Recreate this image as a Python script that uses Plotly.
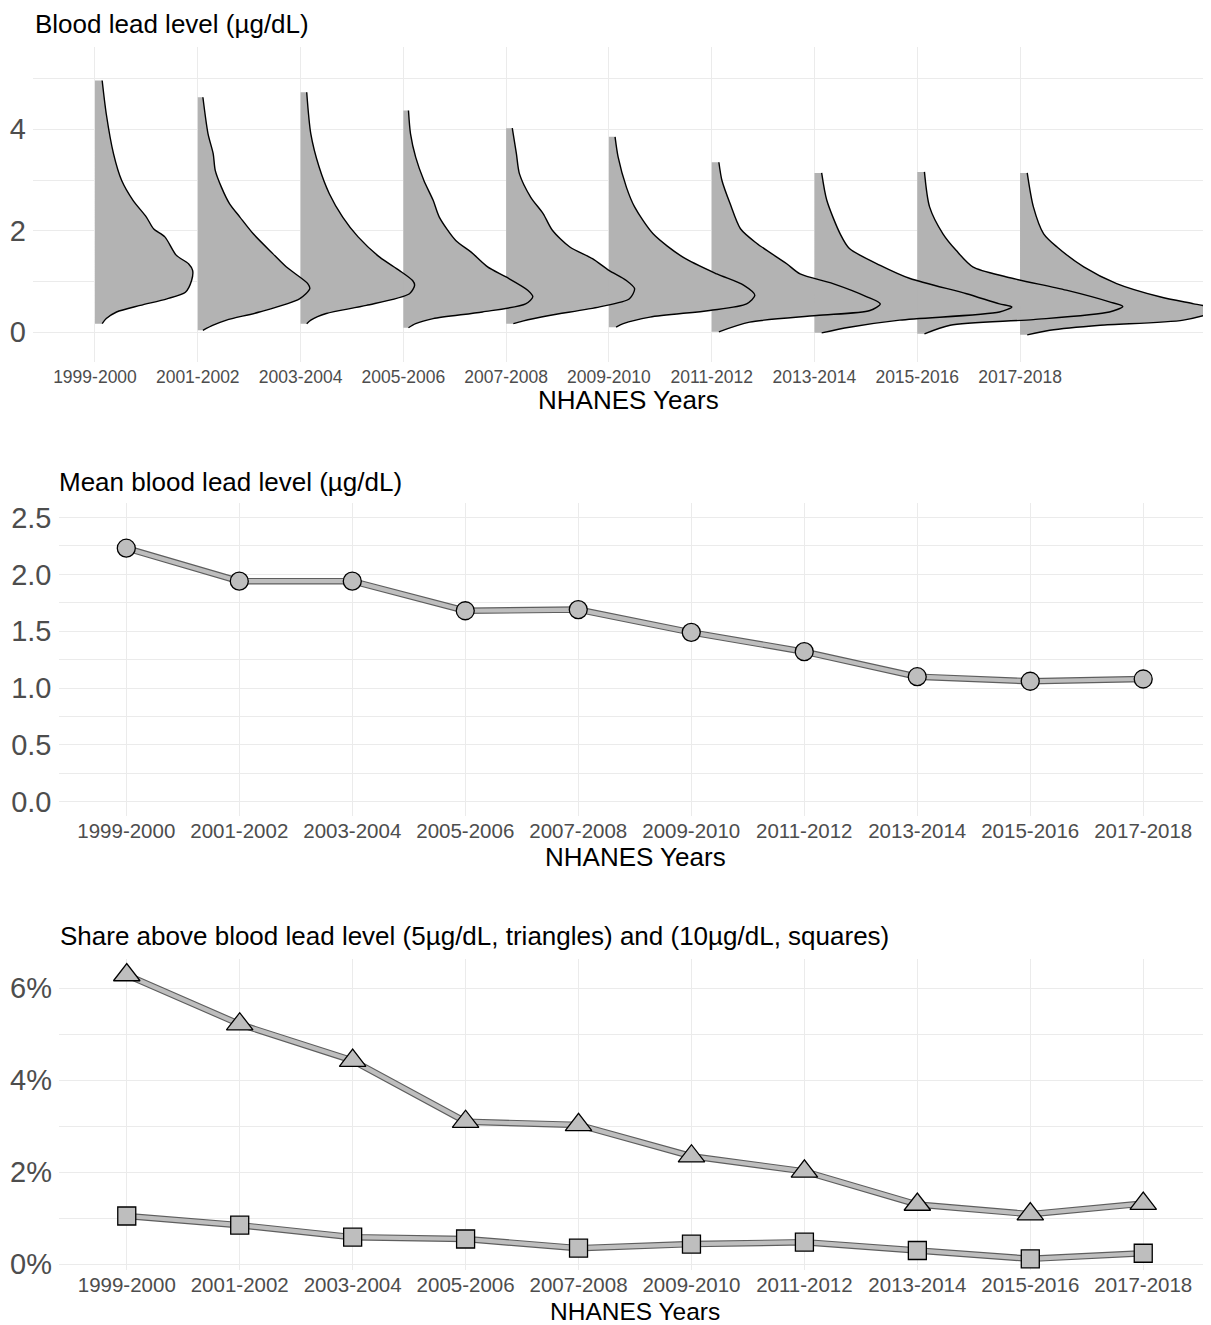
import plotly.graph_objects as go

periods = ["1999-2000", "2001-2002", "2003-2004", "2005-2006", "2007-2008",
           "2009-2010", "2011-2012", "2013-2014", "2015-2016", "2017-2018"]

# Ridge (half-density) profiles: blood lead level and density height
ridge_levels = [
    [4.96, 4.30, 3.52, 2.99, 2.60, 2.27, 2.04, 1.88, 1.52, 1.35, 1.22, 1.02, 0.79, 0.66, 0.53, 0.40, 0.27, 0.17],
    [4.63, 3.91, 3.52, 3.19, 2.86, 2.53, 2.27, 1.94, 1.55, 1.29, 0.96, 0.86, 0.66, 0.40, 0.24, 0.14, 0.04],
    [4.73, 3.91, 3.26, 2.73, 2.27, 1.88, 1.48, 1.22, 1.02, 0.93, 0.76, 0.53, 0.37, 0.24, 0.17],
    [4.37, 3.91, 3.45, 2.99, 2.60, 2.27, 1.81, 1.58, 1.29, 1.09, 0.83, 0.70, 0.56, 0.40, 0.27, 0.17, 0.09],
    [4.02, 3.52, 3.12, 2.66, 2.34, 2.01, 1.68, 1.45, 1.22, 1.02, 0.86, 0.66, 0.50, 0.33, 0.22, 0.17],
    [3.85, 3.45, 2.86, 2.47, 1.94, 1.48, 1.15, 0.93, 0.73, 0.56, 0.43, 0.30, 0.17, 0.10],
    [3.35, 2.99, 2.53, 2.04, 1.75, 1.35, 1.15, 0.96, 0.70, 0.56, 0.43, 0.33, 0.20, 0.01],
    [3.14, 2.60, 1.94, 1.65, 1.32, 1.06, 0.76, 0.56, 0.50, 0.40, 0.24, 0.10, -0.01],
    [3.16, 2.47, 1.94, 1.61, 1.29, 1.09, 0.83, 0.60, 0.51, 0.40, 0.25, 0.14, -0.03],
    [3.14, 2.47, 1.94, 1.68, 1.29, 0.96, 0.70, 0.56, 0.45, 0.24, 0.14, 0.04, -0.05],
]
ridge_density = [
    [0.07, 0.11, 0.18, 0.26, 0.37, 0.50, 0.57, 0.68, 0.79, 0.91, 0.95, 0.94, 0.88, 0.70, 0.44, 0.21, 0.11, 0.07],
    [0.05, 0.10, 0.15, 0.17, 0.23, 0.31, 0.41, 0.54, 0.73, 0.86, 1.07, 1.09, 0.99, 0.60, 0.28, 0.15, 0.05],
    [0.06, 0.10, 0.18, 0.28, 0.41, 0.56, 0.77, 0.96, 1.09, 1.11, 1.06, 0.64, 0.25, 0.10, 0.06],
    [0.05, 0.07, 0.12, 0.20, 0.29, 0.35, 0.51, 0.66, 0.82, 1.00, 1.21, 1.26, 1.19, 0.77, 0.29, 0.12, 0.05],
    [0.06, 0.10, 0.13, 0.24, 0.36, 0.45, 0.62, 0.84, 1.00, 1.17, 1.25, 1.20, 0.91, 0.42, 0.16, 0.07],
    [0.06, 0.09, 0.17, 0.25, 0.43, 0.72, 1.05, 1.31, 1.42, 1.34, 0.98, 0.40, 0.14, 0.07],
    [0.07, 0.10, 0.18, 0.28, 0.44, 0.73, 0.86, 1.18, 1.51, 1.64, 1.54, 1.02, 0.37, 0.07],
    [0.07, 0.12, 0.25, 0.34, 0.64, 0.93, 1.48, 1.80, 1.92, 1.80, 0.83, 0.34, 0.07],
    [0.07, 0.12, 0.25, 0.38, 0.54, 0.87, 1.45, 1.87, 2.00, 1.87, 1.13, 0.32, 0.07],
    [0.07, 0.13, 0.23, 0.36, 0.62, 0.94, 1.36, 1.69, 1.95, 1.59, 0.78, 0.29, 0.07],
]

mean_bll = [2.23, 1.94, 1.94, 1.68, 1.69, 1.49, 1.32, 1.10, 1.06, 1.08]
share_above_5 = [6.29, 5.22, 4.43, 3.10, 3.03, 2.35, 2.02, 1.30, 1.09, 1.32]
share_above_10 = [1.05, 0.85, 0.59, 0.55, 0.35, 0.44, 0.48, 0.30, 0.12, 0.24]

ridge_ticks = [0, 2, 4]
mean_ticks = [0.0, 0.5, 1.0, 1.5, 2.0, 2.5]
share_ticks = [0, 2, 4, 6]

FONT = "Liberation Sans, Arial, Helvetica, sans-serif"
GRID = "#EBEBEB"
TICK = "#4D4D4D"
RIDGE_FILL = "#B3B3B3"
PT_FILL = "#BEBEBE"
OFF = 8                      # page body margin of the html page
W, H = 1211 - OFF, 1325 - OFF
SM = 0.75

def px_x(X):
    return (X - OFF) / W

def px_y(Y):
    return 1 - (Y - OFF) / H

idx = list(range(len(periods)))

fig = go.Figure()

# ---- Panel 1: ridges (fills first, then outlines) ----
for i, (lev, den) in enumerate(zip(ridge_levels, ridge_density)):
    fig.add_trace(go.Scatter(x=[i, i], y=[lev[0], lev[-1]], mode="lines",
                             line=dict(width=0, color=RIDGE_FILL), hoverinfo="skip",
                             showlegend=False, xaxis="x", yaxis="y"))
    fig.add_trace(go.Scatter(x=[i + d for d in den], y=lev, mode="lines",
                             line=dict(width=0, color=RIDGE_FILL, shape="spline", smoothing=SM),
                             fill="tonextx", fillcolor=RIDGE_FILL, hoverinfo="skip",
                             showlegend=False, xaxis="x", yaxis="y"))
for i, (lev, den) in enumerate(zip(ridge_levels, ridge_density)):
    fig.add_trace(go.Scatter(x=[i + d for d in den], y=lev, mode="lines",
                             line=dict(width=1.4, color="black", shape="spline", smoothing=SM),
                             showlegend=False, xaxis="x", yaxis="y"))

# ---- Panel 2: mean ----
def band(x, y, xa, ya):
    fig.add_trace(go.Scatter(x=x, y=y, mode="lines", line=dict(width=6.5, color="#5E5E5E"),
                             showlegend=False, xaxis=xa, yaxis=ya))
    fig.add_trace(go.Scatter(x=x, y=y, mode="lines", line=dict(width=4.2, color=PT_FILL),
                             showlegend=False, xaxis=xa, yaxis=ya))

band(idx, mean_bll, "x2", "y2")
fig.add_trace(go.Scatter(x=idx, y=mean_bll, mode="markers",
                         marker=dict(symbol="circle", size=18, color=PT_FILL,
                                     line=dict(color="black", width=1.3)),
                         showlegend=False, xaxis="x2", yaxis="y2"))

# ---- Panel 3: shares ----
band(idx, share_above_5, "x3", "y3")
band(idx, share_above_10, "x3", "y3")
fig.add_trace(go.Scatter(x=idx, y=share_above_5, mode="markers",
                         marker=dict(symbol="triangle-up", size=23, color=PT_FILL,
                                     line=dict(color="black", width=1.3)),
                         showlegend=False, xaxis="x3", yaxis="y3"))
fig.add_trace(go.Scatter(x=idx, y=share_above_10, mode="markers",
                         marker=dict(symbol="square", size=18, color=PT_FILL,
                                     line=dict(color="black", width=1.3)),
                         showlegend=False, xaxis="x3", yaxis="y3"))

def xax(domain, rng, anchor, size, standoff):
    return dict(domain=domain, range=rng, anchor=anchor, tickmode="array",
                tickvals=idx, ticktext=periods, showgrid=True, gridcolor=GRID, gridwidth=1.4,
                zeroline=False, showline=False, ticks="", ticklabelstandoff=standoff,
                automargin=False,
                tickfont=dict(family=FONT, size=size, color=TICK), fixedrange=True)

def yax(domain, rng, anchor, major, labels, minor, size):
    return dict(domain=domain, range=rng, anchor=anchor, tickmode="array", tickvals=major,
                ticktext=labels, showgrid=True, gridcolor=GRID, gridwidth=1.4, zeroline=False,
                showline=False, ticks="", ticklabelstandoff=6, automargin=False,
                tickfont=dict(family=FONT, size=size, color=TICK),
                minor=dict(tickmode="array", tickvals=minor, showgrid=True, gridcolor=GRID,
                           gridwidth=0.8))

fig.update_layout(
    width=W, height=H, margin=dict(l=0, r=0, t=0, b=0, autoexpand=False),
    paper_bgcolor="white", plot_bgcolor="white", showlegend=False,
    xaxis=xax([px_x(33), 1], [-0.603, 10.858], "y", 17.5, 2),
    yaxis=yax([px_y(362), px_y(47)], [-0.585, 5.62], "x", ridge_ticks,
              [str(v) for v in ridge_ticks], [1, 3, 5], 29),
    xaxis2=xax([px_x(58.5), 1], [-0.6, 9.6], "y2", 20.5, 0),
    yaxis2=yax([px_y(816), px_y(503.3)], [-0.125, 2.625], "x2", mean_ticks,
               [f"{v:.1f}" for v in mean_ticks], [0.25, 0.75, 1.25, 1.75, 2.25], 29),
    xaxis3=xax([px_x(59), 1], [-0.6, 9.6], "y3", 20.5, 0),
    yaxis3=yax([px_y(1270), px_y(958.9)], [-0.124, 6.64], "x3", share_ticks,
               [f"{v}%" for v in share_ticks], [1, 3, 5], 29),
)

def txt(s, X, Y, size, xanchor="left"):
    fig.add_annotation(text=s, x=px_x(X), y=px_y(Y), xref="paper", yref="paper",
                       xanchor=xanchor, yanchor="middle", showarrow=False,
                       font=dict(family=FONT, size=size, color="black"))

txt("Blood lead level (µg/dL)", 33, 24, 26)
txt("NHANES Years", 628, 400, 26, "center")
txt("Mean blood lead level (µg/dL)", 57, 482, 26)
txt("NHANES Years", 635, 857, 26, "center")
txt("Share above blood lead level (5µg/dL, triangles) and (10µg/dL, squares)", 58, 936, 26)
txt("NHANES Years", 635, 1311, 24.5, "center")

fig.write_html("out.html")
